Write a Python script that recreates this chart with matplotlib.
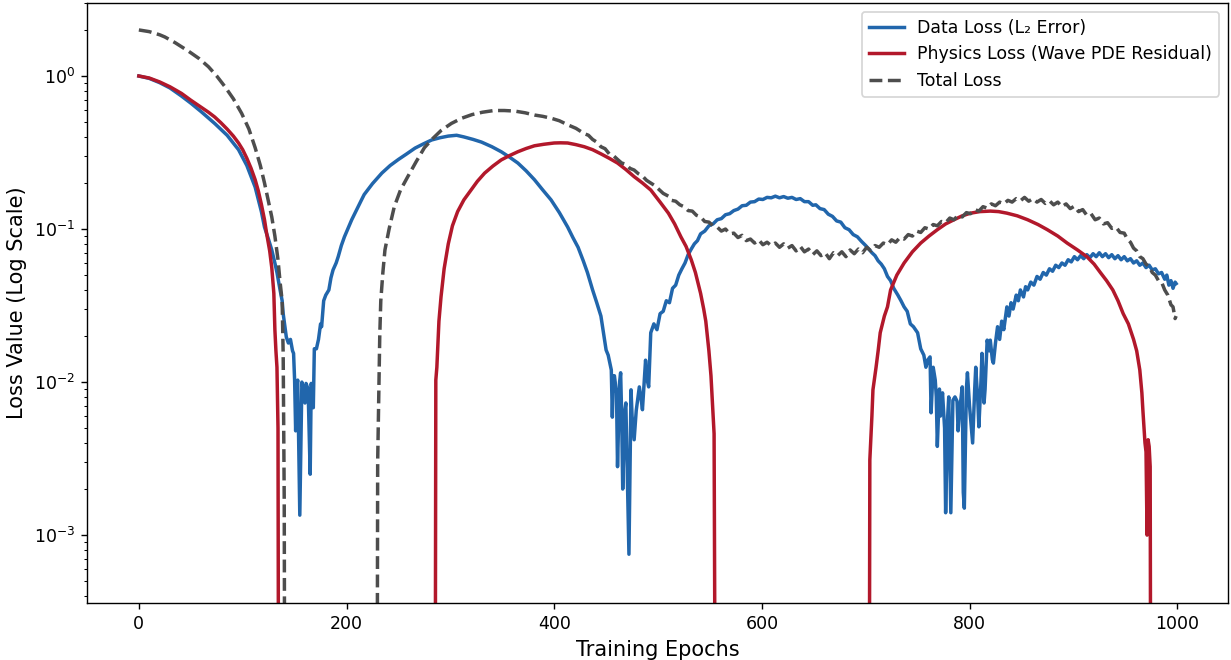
import numpy as np
import matplotlib
matplotlib.use("Agg")
import matplotlib.pyplot as plt

nan = np.nan

# Data loss (L2 error)
data_epochs = [
    0, 10, 20, 30, 41, 50, 60, 73, 85, 96, 104, 112, 118, 121, 125, 128, 131, 133, 136, 138,
    139, 141, 142, 144, 146, 148, 149, 150, 151, 152, 153, 155, 157, 159, 160, 161, 163, 165, 166, 168,
    169, 171, 173, 175, 176, 178, 180, 183, 185, 187, 190, 192, 195, 198, 202, 205, 210, 214, 217, 225,
    234, 242, 250, 258, 266, 274, 282, 290, 298, 306, 313, 322, 330, 340, 349, 357, 365, 373, 381, 389,
    397, 405, 413, 418, 423, 428, 432, 437, 441, 445, 448, 450, 452, 453, 455, 456, 457, 458, 460, 461,
    463, 464, 465, 466, 468, 469, 470, 472, 474, 475, 477, 479, 482, 484, 485, 487, 488, 490, 491, 493,
    496, 499, 502, 505, 508, 511, 514, 517, 520, 523, 526, 529, 532, 535, 538, 541, 545, 549, 553, 557,
    561, 565, 569, 573, 577, 581, 585, 589, 593, 597, 601, 605, 609, 613, 617, 621, 625, 629, 633, 637,
    641, 645, 649, 652, 656, 660, 664, 668, 672, 676, 680, 684, 688, 692, 696, 700, 703, 706, 709, 712,
    715, 718, 721, 724, 727, 731, 734, 737, 740, 743, 746, 750, 753, 756, 758, 760, 762, 763, 765, 767,
    768, 769, 771, 772, 774, 776, 777, 779, 780, 782, 784, 786, 788, 789, 791, 793, 794, 795, 797, 798,
    800, 803, 805, 806, 808, 809, 811, 812, 814, 815, 817, 819, 820, 822, 823, 825, 827, 829, 831, 833,
    836, 838, 840, 842, 845, 847, 849, 852, 854, 856, 859, 862, 865, 868, 871, 874, 877, 880, 883, 886,
    889, 892, 895, 898, 901, 904, 907, 910, 913, 916, 919, 922, 925, 928, 931, 934, 937, 940, 943, 946,
    949, 952, 955, 958, 961, 964, 967, 970, 973, 976, 979, 982, 985, 988, 990, 992, 994, 996, 998, 999,
]
data_loss = [
    1.0, 0.965, 0.905, 0.835, 0.74, 0.665, 0.585, 0.49, 0.41, 0.33, 0.26, 0.188, 0.13, 0.103, 0.085, 0.073, 0.06, 0.052, 0.04, 0.034,
    0.028, 0.022, 0.0197, 0.018, 0.019, 0.016, 0.0154, 0.0103, 0.0048, 0.0095, 0.0103, 0.00135, 0.0100, 0.0085, 0.0073, 0.0098, 0.0090, 0.0025, 0.0098, 0.0068,
    0.0165, 0.0165, 0.019, 0.024, 0.023, 0.034, 0.037, 0.040, 0.048, 0.054, 0.060, 0.066, 0.078, 0.089, 0.103, 0.115, 0.135, 0.153, 0.168, 0.198,
    0.232, 0.26, 0.285, 0.31, 0.338, 0.36, 0.382, 0.395, 0.405, 0.41, 0.40, 0.385, 0.37, 0.345, 0.32, 0.295, 0.27, 0.24, 0.21, 0.18,
    0.155, 0.128, 0.103, 0.088, 0.076, 0.062, 0.052, 0.040, 0.033, 0.027, 0.020, 0.0162, 0.0150, 0.0139, 0.0120, 0.0059, 0.0110, 0.011, 0.0085, 0.0028,
    0.0100, 0.0115, 0.0060, 0.0020, 0.0065, 0.0073, 0.0035, 0.00075, 0.0089, 0.0060, 0.0042, 0.0065, 0.0093, 0.0075, 0.0066, 0.0110, 0.0139, 0.0100, 0.0093, 0.021,
    0.024, 0.022, 0.028, 0.029, 0.034, 0.033, 0.041, 0.043, 0.050, 0.055, 0.060, 0.068, 0.074, 0.080, 0.084, 0.093, 0.097, 0.105, 0.108, 0.115,
    0.117, 0.124, 0.126, 0.132, 0.135, 0.142, 0.143, 0.150, 0.151, 0.157, 0.156, 0.161, 0.160, 0.164, 0.160, 0.163, 0.159, 0.161, 0.156, 0.158,
    0.151, 0.151, 0.143, 0.144, 0.136, 0.134, 0.125, 0.121, 0.113, 0.111, 0.102, 0.099, 0.092, 0.089, 0.083, 0.078, 0.074, 0.070, 0.067, 0.062,
    0.059, 0.055, 0.049, 0.046, 0.041, 0.037, 0.034, 0.031, 0.029, 0.024, 0.023, 0.021, 0.0165, 0.0150, 0.0125, 0.0140, 0.0146, 0.0063, 0.0125, 0.0103,
    0.0080, 0.0038, 0.0090, 0.0060, 0.0085, 0.0050, 0.0014, 0.0060, 0.0080, 0.0014, 0.0076, 0.0080, 0.0075, 0.0048, 0.0070, 0.0093, 0.0019, 0.0015, 0.0090, 0.0115,
    0.0070, 0.0040, 0.0090, 0.0125, 0.0075, 0.0051, 0.0100, 0.0154, 0.0073, 0.0090, 0.0188, 0.0160, 0.0188, 0.0140, 0.0133, 0.0180, 0.023, 0.019, 0.025, 0.022,
    0.031, 0.027, 0.033, 0.030, 0.037, 0.034, 0.040, 0.036, 0.042, 0.040, 0.045, 0.043, 0.049, 0.047, 0.052, 0.050, 0.055, 0.053, 0.058, 0.056,
    0.060, 0.058, 0.063, 0.061, 0.066, 0.063, 0.067, 0.064, 0.068, 0.065, 0.069, 0.066, 0.070, 0.066, 0.069, 0.065, 0.068, 0.064, 0.067, 0.063,
    0.066, 0.062, 0.064, 0.060, 0.062, 0.058, 0.060, 0.056, 0.058, 0.054, 0.055, 0.051, 0.052, 0.047, 0.050, 0.043, 0.046, 0.041, 0.045, 0.044,
]

# Physics loss (wave PDE residual); gaps where the curve leaves the log axis
phys_epochs = [
    0, 10, 20, 30, 41, 50, 60, 67, 73, 79, 85, 91, 96, 100, 104, 108, 112, 115, 118, 121, 123, 126, 128, 130,
    131, 132, 133, 134, 135, 136,
    284, 285, 286, 287, 289, 291, 294, 298, 302, 307, 313, 320, 326, 333, 341, 349, 357, 365, 373, 381, 390,
    400, 406, 413, 421, 429, 437, 445, 453, 461, 469, 477, 485, 493, 502, 510, 516, 522, 527, 532, 536, 541,
    544, 546, 549, 551, 554, 556, 557,
    702, 703, 704, 706, 707, 710, 712, 714, 718, 721, 724, 730, 737, 745, 753, 761, 769, 777, 785, 793, 801,
    810, 820, 828, 836, 846, 856, 866, 875, 885, 894, 904, 913, 920, 926, 932, 938, 943, 948, 953, 958, 961,
    964, 966, 967, 969, 970, 971, 972, 973, 974, 975,
]
phys_loss = [
    1.0, 0.97, 0.915, 0.85, 0.77, 0.695, 0.625, 0.58, 0.54, 0.495, 0.45, 0.405, 0.365, 0.33, 0.29, 0.25, 0.21, 0.178, 0.145, 0.115, 0.094, 0.072, 0.056, 0.038,
    0.022, 0.016, 0.0125, 0.005, 1e-6, nan,
    nan, 1e-6, 0.0103, 0.0125, 0.025, 0.036, 0.055, 0.080, 0.105, 0.130, 0.155, 0.18, 0.205, 0.232, 0.258, 0.283, 0.302, 0.32, 0.336, 0.35, 0.358,
    0.365, 0.366, 0.365, 0.356, 0.345, 0.33, 0.31, 0.29, 0.27, 0.245, 0.22, 0.20, 0.18, 0.15, 0.127, 0.108, 0.089, 0.077, 0.063, 0.052, 0.038,
    0.030, 0.025, 0.016, 0.011, 0.0046, 1e-6, nan,
    nan, 1e-6, 0.0031, 0.0060, 0.0089, 0.0125, 0.016, 0.021, 0.027, 0.031, 0.040, 0.050, 0.060, 0.071, 0.081, 0.090, 0.099, 0.108, 0.115, 0.122, 0.127,
    0.130, 0.131, 0.130, 0.127, 0.122, 0.115, 0.107, 0.099, 0.090, 0.081, 0.073, 0.066, 0.059, 0.052, 0.046, 0.040, 0.034, 0.028, 0.024, 0.019, 0.016,
    0.0120, 0.0085, 0.0065, 0.0040, 0.0035, 0.0010, 0.0042, 0.0038, 0.0028, 1e-6,
]

# Total loss
total_epochs = [
    0, 10, 20, 25, 35, 48, 58, 67, 75, 83, 91, 99, 106, 112, 117, 121, 125, 128, 131, 134, 136, 138, 139, 140, 141, 142,
    228, 229, 230, 231, 232, 233, 235, 237, 241, 246, 252, 259, 267, 275, 283, 291, 301, 311, 321, 331, 342, 352, 362, 372,
    381, 389, 397, 405, 413, 421, 429, 433, 437, 441, 445, 449, 453, 457, 461, 465, 469, 473, 477, 481, 485, 489, 493, 497,
    501, 505, 510, 513, 517, 521, 525, 529, 533, 537, 541, 545, 549, 553, 557, 561, 565, 569, 573, 577, 581, 585, 589, 593,
    597, 601, 605, 609, 613, 617, 621, 625, 629, 633, 637, 641, 645, 649, 653, 657, 661, 665, 669, 673, 677, 681, 685, 689,
    693, 697, 701, 705, 709, 713, 717, 721, 725, 729, 733, 737, 741, 745, 749, 753, 757, 761, 765, 769, 773, 777, 781, 785,
    789, 793, 797, 801, 805, 809, 813, 817, 821, 825, 829, 833, 837, 841, 845, 849, 853, 857, 861, 865, 869, 873, 877, 881,
    885, 889, 893, 897, 901, 905, 909, 913, 917, 921, 925, 929, 933, 937, 941, 945, 949, 952, 955, 958, 961, 964, 967, 970,
    973, 976, 979, 982, 985, 988, 991, 994, 996, 998, 999,
]
total_loss = [
    2.0, 1.95, 1.86, 1.80, 1.65, 1.45, 1.30, 1.15, 1.00, 0.85, 0.71, 0.57, 0.45, 0.34, 0.26, 0.20, 0.15, 0.12, 0.09, 0.063, 0.045, 0.034, 0.015, 0.0017, 1e-6, nan,
    nan, 1e-6, 0.0030, 0.0076, 0.020, 0.034, 0.052, 0.073, 0.10, 0.14, 0.18, 0.22, 0.275, 0.34, 0.39, 0.44, 0.49, 0.53, 0.56, 0.58, 0.595, 0.595, 0.59, 0.575,
    0.556, 0.545, 0.53, 0.51, 0.48, 0.455, 0.42, 0.41, 0.385, 0.37, 0.345, 0.335, 0.31, 0.302, 0.285, 0.27, 0.265, 0.249, 0.243, 0.23, 0.222, 0.208, 0.20, 0.192,
    0.181, 0.171, 0.164, 0.154, 0.152, 0.144, 0.140, 0.132, 0.131, 0.123, 0.120, 0.112, 0.111, 0.105, 0.103, 0.097, 0.100, 0.093, 0.094, 0.088, 0.091, 0.084, 0.086, 0.081,
    0.085, 0.079, 0.082, 0.078, 0.081, 0.076, 0.080, 0.075, 0.078, 0.072, 0.077, 0.071, 0.074, 0.068, 0.072, 0.067, 0.070, 0.064, 0.070, 0.067, 0.071, 0.066, 0.073, 0.069,
    0.074, 0.070, 0.076, 0.072, 0.078, 0.076, 0.081, 0.079, 0.085, 0.082, 0.088, 0.086, 0.092, 0.090, 0.097, 0.095, 0.102, 0.100, 0.107, 0.105, 0.112, 0.110, 0.118, 0.115,
    0.123, 0.120, 0.128, 0.126, 0.134, 0.131, 0.140, 0.137, 0.146, 0.142, 0.150, 0.146, 0.154, 0.150, 0.158, 0.153, 0.161, 0.152, 0.158, 0.150, 0.156, 0.147, 0.153, 0.144,
    0.150, 0.140, 0.146, 0.136, 0.141, 0.130, 0.134, 0.123, 0.126, 0.115, 0.118, 0.108, 0.110, 0.101, 0.103, 0.095, 0.094, 0.086, 0.082, 0.075, 0.072, 0.066, 0.064, 0.059,
    0.057, 0.052, 0.050, 0.046, 0.045, 0.040, 0.037, 0.032, 0.031, 0.026, 0.027,
]

fig = plt.figure(figsize=(1231 / 125, 660 / 125), dpi=125)
ax = fig.add_axes([87 / 1231, 57 / 660, 1141 / 1231, 600 / 660])

ax.plot(data_epochs, data_loss, color="#2166ac", linewidth=2, label="Data Loss (L\u2082 Error)")
ax.plot(phys_epochs, phys_loss, color="#b2182b", linewidth=2, label="Physics Loss (Wave PDE Residual)")
ax.plot(total_epochs, total_loss, color="#4d4d4d", linewidth=2, linestyle="--", label="Total Loss")

ax.set_yscale("log")
ax.set_xlim(-49.95, 1048.95)
ax.set_ylim(3.6e-4, 3.0)
ax.set_xlabel("Training Epochs", fontsize=12)
ax.set_ylabel("Loss Value (Log Scale)", fontsize=12)
ax.legend(loc="upper right", fontsize=10)

fig.savefig("out.png", dpi=125)
